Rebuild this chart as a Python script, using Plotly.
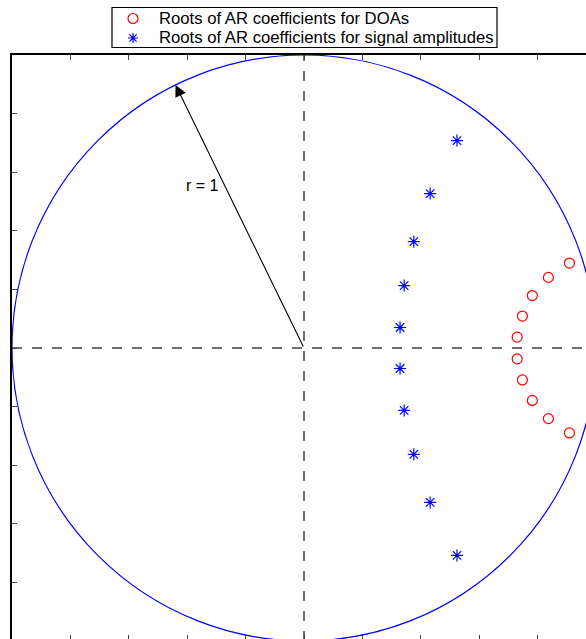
import plotly.graph_objects as go

# Roots of AR coefficients for DOAs (red circles)
doa_x = [0.909, 0.837, 0.782, 0.748, 0.730, 0.730, 0.748, 0.782, 0.837, 0.909]
doa_y = [0.290, 0.241, 0.179, 0.109, 0.037, -0.037, -0.109, -0.179, -0.241, -0.290]

# Roots of AR coefficients for signal amplitudes (blue stars)
amp_x = [0.524, 0.432, 0.376, 0.343, 0.329, 0.329, 0.343, 0.376, 0.432, 0.524]
amp_y = [0.708, 0.527, 0.363, 0.213, 0.070, -0.070, -0.213, -0.363, -0.527, -0.708]

series_names = ["Roots of AR coefficients for DOAs",
                "Roots of AR coefficients for signal amplitudes"]

# Radius arrow tip (on unit circle) and label position
arrow_tip = (-0.440, 0.898)
label_pos = (-0.346, 0.553)
tick_vals = [-1.0, -0.8, -0.6, -0.4, -0.2, 0.0, 0.2, 0.4, 0.6, 0.8, 1.0]

FONT = "Liberation Sans, Arial, Helvetica, sans-serif"
W, H = 586, 639
L, T = 12, 55
px_per_unit_x = 292.0
px_per_unit_y = 293.0
x_range = [-1.0, -1.0 + (W - L) / px_per_unit_x]
y_range = [1.0 - (H - T) / px_per_unit_y, 1.0]


def px(xp):
    return (xp - L) / (W - L)


def py(yp):
    return (H - yp) / (H - T)


fig = go.Figure()

# dashed reference axes through origin
fig.add_trace(go.Scatter(x=[-1, 1], y=[0, 0], mode="lines", xaxis="x2",
                         line=dict(color="#707070", width=2, dash="10px,10px"),
                         showlegend=False, hoverinfo="skip"))
fig.add_trace(go.Scatter(x=[0, 0], y=[-1, 1], mode="lines",
                         line=dict(color="#707070", width=2, dash="10px,10px"),
                         showlegend=False, hoverinfo="skip"))

fig.add_trace(go.Scatter(x=doa_x, y=doa_y, mode="markers", name=series_names[0],
                         showlegend=False,
                         marker=dict(symbol="circle-open", size=10, color="red",
                                     line=dict(width=1.2, color="red"))))
fig.add_trace(go.Scatter(x=amp_x, y=amp_y, mode="markers", name=series_names[1],
                         showlegend=False,
                         marker=dict(symbol="asterisk-open", size=10, color="blue",
                                     line=dict(width=1.2, color="blue"))))

# unit circle
fig.add_shape(type="circle", xref="x", yref="y", x0=-1, y0=-1, x1=1, y1=1,
              line=dict(color="blue", width=1.2), layer="above")

fig.add_annotation(x=arrow_tip[0], y=arrow_tip[1], ax=0, ay=0, xref="x", yref="y",
                   axref="x", ayref="y", showarrow=True, arrowhead=2, arrowsize=2.1,
                   arrowwidth=1.1, arrowcolor="black", text="")
fig.add_annotation(x=label_pos[0], y=label_pos[1], xref="x", yref="y", text="r = 1",
                   showarrow=False, font=dict(family=FONT, size=16, color="black"))

# legend box (drawn manually so its compact MATLAB-like height is kept)
fig.add_shape(type="rect", xref="paper", yref="paper", x0=px(112), x1=px(497),
              y0=py(47.5), y1=py(7.5), line=dict(color="black", width=1.2),
              fillcolor="white", layer="above")
row_y = [18.5, 38]
fig.add_shape(type="circle", xref="paper", yref="paper", xsizemode="pixel",
              ysizemode="pixel", xanchor=px(133), yanchor=py(row_y[0]),
              x0=-5, x1=5, y0=-5, y1=5, line=dict(color="red", width=1.2),
              layer="above")
fig.add_shape(type="path", xref="paper", yref="paper", xsizemode="pixel",
              ysizemode="pixel", xanchor=px(133), yanchor=py(row_y[1]),
              path="M-5,0L5,0M0,-5L0,5M-3.6,-3.6L3.6,3.6M-3.6,3.6L3.6,-3.6",
              line=dict(color="blue", width=1.2), layer="above")
for name, ry in zip(series_names, row_y):
    fig.add_annotation(x=px(156.5), y=py(ry), xref="paper", yref="paper", text=name,
                       xanchor="left", yanchor="middle", showarrow=False,
                       font=dict(family=FONT, size=16.7, color="black"))

common = dict(range=x_range, showgrid=False, zeroline=False, showticklabels=False,
              tickvals=tick_vals, ticks="inside", tickcolor="#444", tickwidth=1)
fig.update_layout(
    width=W, height=H,
    margin=dict(l=L, t=T, r=0, b=0),
    plot_bgcolor="white", paper_bgcolor="white",
    xaxis=dict(side="top", showline=True, linecolor="black", linewidth=2,
               ticklen=5, mirror=False, **common),
    xaxis2=dict(overlaying="x", matches="x", side="bottom", showline=False,
                ticklen=4, **common),
    yaxis=dict(range=y_range, showgrid=False, zeroline=False, showticklabels=False,
               tickvals=tick_vals, ticks="inside", ticklen=5, tickcolor="#444",
               tickwidth=1, showline=True, linecolor="black", linewidth=2),
    showlegend=False,
)

fig.write_html("out.html")
